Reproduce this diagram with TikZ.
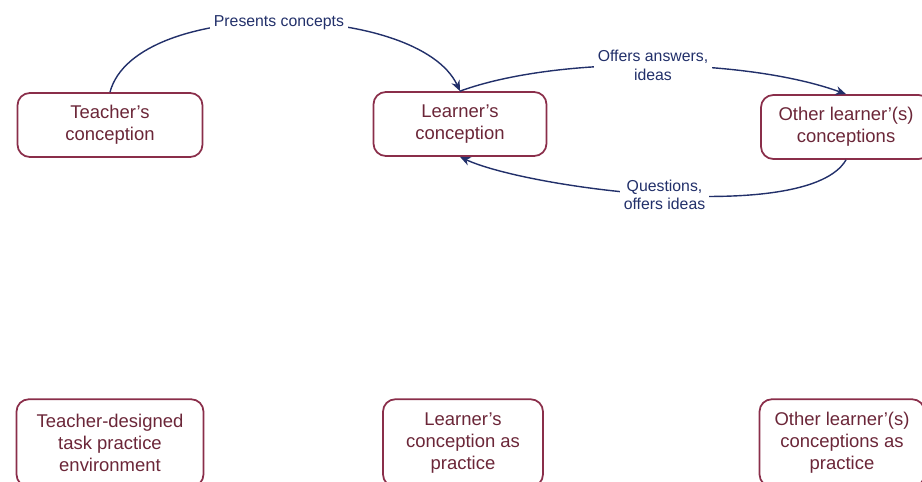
\documentclass[tikz,border=0pt]{standalone}
\usepackage{fontspec}
\setmainfont{Liberation Sans}
\usepackage{xcolor}
\usetikzlibrary{arrows.meta}
\definecolor{boxred}{HTML}{8A2E4A}
\definecolor{boxtext}{HTML}{6B2638}
\definecolor{arrowblue}{HTML}{22306A}

\begin{document}
\begin{tikzpicture}[x=0.02cm,y=-0.02cm,
    concept/.style={draw=boxred,line width=1pt,rounded corners=7pt,align=center,
      text=boxtext,font=\fontsize{10.5}{12.5}\selectfont,minimum height=1.28cm,inner sep=2pt},
    flow/.style={->,>={Stealth[length=6pt,width=5pt]},draw=arrowblue,line width=0.8pt},
    lbl/.style={fill=white,text=arrowblue,font=\fontsize{9}{10.5}\selectfont,align=center,inner sep=2pt}]
      \clip (0,0) rectangle (922,482);
      \node[concept,minimum width=3.7cm] (teacher) at (110,125) {Teacher's\\conception};
      \node[concept,minimum width=3.46cm] (learner) at (460,124) {Learner's\\conception};
      \node[concept,minimum width=3.4cm] (other) at (846,127) {Other learner'(s)\\conceptions};
      \node[concept,minimum width=3.74cm,minimum height=1.75cm] (task) at (110,443) {Teacher-designed\\task practice\\environment};
      \node[concept,minimum width=3.2cm,minimum height=1.75cm] (learnerprac) at (463,443) {Learner's\\conception as\\practice};
      \node[concept,minimum width=3.3cm,minimum height=1.75cm] (otherprac) at (842,443) {Other learner'(s)\\conceptions as\\practice};
      \draw[flow] (teacher.north) to[out=75,in=115,looseness=0.72] node[lbl] {Presents concepts} (learner.north);
      \draw[flow] (learner.north) to[out=20,in=160,looseness=0.7] node[lbl] {Offers answers,\\ideas} (other.north);
      \draw[flow] (other.south) to[out=-120,in=-25,looseness=0.5] node[lbl] {Questions,\\offers ideas} (learner.south);
\end{tikzpicture}
\end{document}
